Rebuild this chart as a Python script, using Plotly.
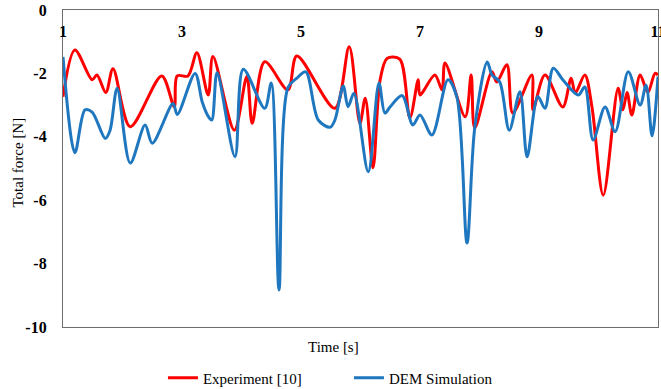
import plotly.graph_objects as go

# Experiment [10]
exp_t = [1.00, 1.20, 1.49, 1.57, 1.72, 1.84, 2.13, 2.66, 2.87, 2.92, 3.10, 3.25, 3.44, 3.52,
         3.88, 4.09, 4.18, 4.39, 4.78, 4.93, 5.57, 5.81, 5.99, 6.08, 6.21, 6.33, 6.45, 6.66,
         6.83, 6.97, 7.00, 7.25, 7.37, 7.42, 7.76, 7.86, 7.92, 8.21, 8.29, 8.46, 8.56, 8.88,
         8.90, 9.10, 9.40, 9.54, 9.61, 9.77, 9.89, 10.08, 10.33, 10.41, 10.48, 10.56, 10.70,
         10.83, 10.95, 11.00]
exp_f = [-2.74, -1.26, -2.20, -2.05, -2.60, -1.85, -3.68, -2.08, -3.05, -2.08, -2.08, -1.35, -2.68, -1.47,
         -3.79, -2.10, -3.57, -1.63, -2.52, -1.45, -3.10, -1.16, -3.57, -2.78, -4.98, -2.20, -1.52, -1.55,
         -3.40, -2.20, -2.68, -2.05, -2.52, -1.67, -3.37, -2.05, -3.72, -1.95, -2.27, -1.73, -3.25, -2.05,
         -3.15, -2.05, -3.06, -2.15, -2.62, -2.05, -3.06, -5.84, -2.47, -3.15, -2.60, -3.31, -2.05,
         -2.60, -2.00, -2.05]

# DEM Simulation
dem_t = [1.00, 1.20, 1.37, 1.49, 1.71, 1.79, 1.91, 2.13, 2.38, 2.50, 2.85, 2.92, 3.22, 3.34,
         3.44, 3.50, 3.59, 3.89, 4.03, 4.39, 4.50, 4.63, 4.78, 4.93, 5.08, 5.29, 5.49, 5.57,
         5.71, 5.79, 5.89, 6.13, 6.31, 6.41, 6.50, 6.70, 6.88, 7.00, 7.20, 7.47, 7.62, 7.79,
         7.92, 8.13, 8.21, 8.34, 8.50, 8.68, 8.80, 8.98, 9.10, 9.24, 9.40, 9.66, 9.77, 9.91,
         10.11, 10.28, 10.50, 10.70, 10.80, 10.90, 11.00]
dem_f = [-1.48, -4.50, -3.15, -3.22, -4.05, -3.80, -2.47, -4.83, -3.63, -4.20, -2.95, -3.30, -2.00, -2.90,
         -3.35, -3.47, -1.98, -4.63, -1.87, -3.10, -2.30, -8.83, -2.45, -2.15, -1.95, -3.47, -3.70, -3.47,
         -2.40, -3.05, -2.63, -5.10, -2.30, -3.25, -3.05, -2.70, -3.63, -3.31, -3.94, -2.20, -2.75, -7.35,
         -3.72, -1.64, -2.05, -2.27, -3.79, -2.58, -4.63, -2.73, -3.10, -1.84, -2.20, -2.68, -2.43, -4.10,
         -3.06, -3.84, -1.95, -3.00, -2.37, -3.97, -2.10]

x_ticks = [1, 3, 5, 7, 9, 11]
y_ticks = [0, -2, -4, -6, -8, -10]

FONT = "Liberation Serif, Times New Roman, serif"

fig = go.Figure()
fig.add_trace(go.Scatter(x=exp_t, y=exp_f, mode="lines", name="Experiment [10]",
                         line=dict(color="#ff0000", width=3, shape="spline", smoothing=0.9)))
fig.add_trace(go.Scatter(x=dem_t, y=dem_f, mode="lines", name="DEM Simulation",
                         line=dict(color="#1f77bf", width=3, shape="spline", smoothing=0.9)))

fig.update_layout(
    width=661, height=389,
    margin=dict(l=63, r=3, t=10, b=62, autoexpand=False),
    paper_bgcolor="white", plot_bgcolor="white",
    font=dict(family=FONT, color="black", size=15),
    showlegend=True,
    legend=dict(orientation="h", x=0.168, xanchor="left", y=-0.161, yanchor="middle",
                font=dict(family=FONT, size=15, color="black"),
                entrywidth=141, entrywidthmode="pixels", tracegroupgap=0,
                bgcolor="rgba(0,0,0,0)"),
    xaxis=dict(range=[1, 11], side="top", tickvals=x_ticks,
               ticktext=[f"<b>{v}</b>" for v in x_ticks],
               ticklabelposition="inside", ticklabeloverflow="allow",
               ticklabelstandoff=16,
               showgrid=False, zeroline=False,
               showline=True, linecolor="#6e6e6e", linewidth=1.3, mirror=True,
               ticks="", tickfont=dict(family=FONT, size=16, color="black")),
    yaxis=dict(range=[-10, 0], tickvals=y_ticks,
               ticktext=[f"<b>{v}</b>" for v in y_ticks],
               ticklabeloverflow="allow",
               showgrid=False, zeroline=False,
               showline=True, linecolor="#6e6e6e", linewidth=1.3, mirror=True,
               ticks="", ticklabelstandoff=12,
               tickfont=dict(family=FONT, size=16, color="black")),
    annotations=[
        dict(text="Time [s]", xref="paper", yref="paper", x=0.455, y=-0.03,
             xanchor="center", yanchor="top", showarrow=False,
             font=dict(family=FONT, size=15, color="black")),
        dict(text="Total force [N]", xref="paper", yref="paper", x=-0.075, y=0.52,
             xanchor="center", yanchor="middle", textangle=-90, showarrow=False,
             font=dict(family=FONT, size=15, color="black")),
    ],
)

fig.write_html("out.html")
